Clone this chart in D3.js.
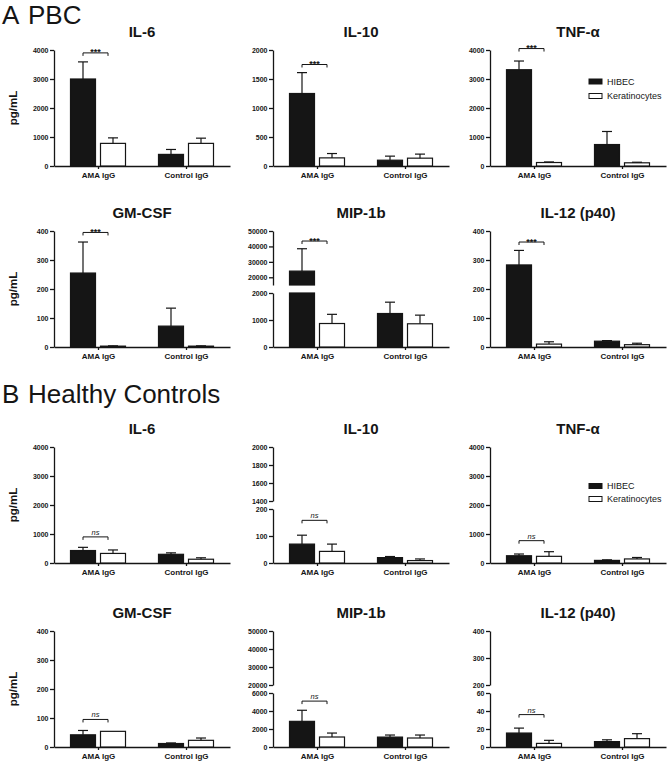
<!DOCTYPE html>
<html><head><meta charset="utf-8">
<script src="https://cdn.jsdelivr.net/npm/d3@7"></script>
<style>
body{margin:0;background:#fff}
svg{display:block;font-family:"Liberation Sans",Arial,sans-serif}
</style>
</head><body>
<svg id="chart" width="668" height="762"></svg>
<script>
// ---------------- DATA ----------------
const categories = ["AMA IgG", "Control IgG"];
const seriesNames = ["HIBEC", "Keratinocytes"];
const cytokines = ["IL-6", "IL-10", "TNF-α", "GM-CSF", "MIP-1b", "IL-12 (p40)"];
const sectionLetters = ["A", "B"];
const sectionNames = ["PBC", "Healthy Controls"];
const yLabel = "pg/mL";

// PBC: per cytokine [AMA IgG, Control IgG]
const pbcHibec    = [[3000, 400], [1250, 100], [3320, 740], [255, 72], [24000, 1240], [283, 20]];
const pbcHibecErr = [[590, 170], [360, 70], [300, 450], [107, 62], [14500, 420], [50, 2]];
const pbcKera     = [[780, 780], [140, 135], [120, 110], [3, 3], [870, 860], [10, 8]];
const pbcKeraErr  = [[190, 180], [75, 70], [20, 20], [1, 1], [340, 320], [8, 5]];
const pbcSig      = ["***", "***", "***", "***", "***", "***"];
const pbcBracket  = [3900, 1750, 4050, 395, 43500, 362];
const pbcLoDomain = [[0, 4000], [0, 2000], [0, 4000], [0, 400], [0, 2000], [0, 400]];
const pbcLoTicks  = [[0, 1000, 2000, 3000, 4000], [0, 500, 1000, 1500, 2000], [0, 1000, 2000, 3000, 4000],
                     [0, 100, 200, 300, 400], [0, 1000, 2000], [0, 100, 200, 300, 400]];
const pbcUpDomain = [null, null, null, null, [15000, 50000], null];
const pbcUpTicks  = [null, null, null, null, [20000, 30000, 40000, 50000], null];

// Healthy controls
const hcHibec    = [[430, 300], [70, 20], [250, 90], [42, 12], [2850, 1100], [15.5, 6]];
const hcHibecErr = [[110, 50], [33, 4], [60, 20], [15, 2], [1230, 230], [5.5, 2]];
const hcKera     = [[330, 130], [43, 9], [230, 140], [54, 23], [1110, 1000], [4, 9.3]];
const hcKeraErr  = [[120, 50], [27, 6], [160, 50], [0, 8], [440, 330], [3.4, 5.5]];
const hcSig      = ["ns", "ns", "ns", "ns", "ns", "ns"];
const hcBracket  = [900, 158, 770, 95, 5100, 36];
const hcLoDomain = [[0, 4000], [0, 200], [0, 4000], [0, 400], [0, 6000], [0, 60]];
const hcLoTicks  = [[0, 1000, 2000, 3000, 4000], [0, 100, 200], [0, 1000, 2000, 3000, 4000],
                    [0, 100, 200, 300, 400], [0, 2000, 4000, 6000], [0, 20, 40, 60]];
const hcUpDomain = [null, [1400, 2000], null, null, [20000, 50000], [200, 400]];
const hcUpTicks  = [null, [1400, 1600, 1800, 2000], null, null, [20000, 30000, 40000, 50000], [200, 300, 400]];

// ---------------- LAYOUT ----------------
const colX = [54, 273, 490];
const sectionRowTop = [[50, 231], [447, 631]];
const sectionHeaderY = [24, 403];
const legendOffsetY = [[31.5, 46], [39, 52]];
const W = 176, H = 116, UP_BOTTOM = 54, LO_TOP = 62;
const INK = "#151515";

const svg = d3.select("#chart");

const sections = [
  {hibec: pbcHibec, hibecErr: pbcHibecErr, kera: pbcKera, keraErr: pbcKeraErr, sig: pbcSig,
   bracket: pbcBracket, lo: pbcLoDomain, loT: pbcLoTicks, up: pbcUpDomain, upT: pbcUpTicks},
  {hibec: hcHibec, hibecErr: hcHibecErr, kera: hcKera, keraErr: hcKeraErr, sig: hcSig,
   bracket: hcBracket, lo: hcLoDomain, loT: hcLoTicks, up: hcUpDomain, upT: hcUpTicks}
];

sections.forEach((sec, si) => {
  const hy = sectionHeaderY[si];
  svg.append("text").attr("x", 2).attr("y", hy).attr("font-size", 26).attr("fill", INK).text(sectionLetters[si]);
  svg.append("text").attr("x", 28).attr("y", hy).attr("font-size", 26).attr("fill", INK).text(sectionNames[si]);

  cytokines.forEach((name, ci) => {
    const row = Math.floor(ci / 3), col = ci % 3;
    const g = svg.append("g").attr("transform", `translate(${colX[col]},${sectionRowTop[si][row]})`);
    drawPanel(g, {
      title: name,
      vals: [sec.hibec[ci], sec.kera[ci]],
      errs: [sec.hibecErr[ci], sec.keraErr[ci]],
      sig: sec.sig[ci], bracket: sec.bracket[ci],
      lo: sec.lo[ci], loT: sec.loT[ci], up: sec.up[ci], upT: sec.upT[ci],
      showYLabel: col === 0,
      legendY: (row === 0 && col === 2) ? legendOffsetY[si] : null
    });
  });
});

function styleAxis(a) {
  a.selectAll("path, line").attr("stroke", INK).attr("stroke-width", 1.3);
  a.selectAll("text").attr("fill", INK);
}

function drawPanel(g, o) {
  const x = d3.scalePoint().domain(categories).range([0, W]).padding(0.5);
  const xs = d3.scaleBand().domain(seriesNames).range([-27.5, 27.5]).paddingInner(1 / 6);
  const broken = !!o.up;
  const yLo = d3.scaleLinear().domain(o.lo).range([H, broken ? LO_TOP : 0]);
  const yUp = broken ? d3.scaleLinear().domain(o.up).range([UP_BOTTOM, 0]) : null;
  const ymap = v => {
    if (!broken || v <= o.lo[1]) return yLo(v);
    if (v >= o.up[0]) return yUp(v);
    return (UP_BOTTOM + LO_TOP) / 2;
  };
  const fmt = d3.format("d");

  // title
  g.append("text").attr("x", W / 2).attr("y", -13).attr("text-anchor", "middle")
    .attr("font-size", 15).attr("font-weight", "bold").attr("fill", INK).text(o.title);

  // y label
  if (o.showYLabel) {
    g.append("text").attr("transform", `translate(-37,${H / 2}) rotate(-90)`)
      .attr("text-anchor", "middle").attr("font-size", 11.5).attr("font-weight", "bold")
      .attr("fill", INK).text(yLabel);
  }

  // y axes
  const aLo = g.append("g").call(d3.axisLeft(yLo).tickValues(o.loT).tickFormat(fmt).tickSize(4).tickSizeOuter(0).tickPadding(1.5))
    .attr("font-size", 7).attr("font-weight", "bold").attr("font-family", null);
  styleAxis(aLo);
  if (broken) {
    const aUp = g.append("g").call(d3.axisLeft(yUp).tickValues(o.upT).tickFormat(fmt).tickSize(4).tickSizeOuter(0).tickPadding(1.5))
      .attr("font-size", 7).attr("font-weight", "bold").attr("font-family", null);
    styleAxis(aUp);
  }

  // x axis
  const aX = g.append("g").attr("transform", `translate(0,${H})`)
    .call(d3.axisBottom(x).tickSize(3).tickSizeOuter(0).tickPadding(3))
    .attr("font-size", 8).attr("font-weight", "bold").attr("font-family", null);
  styleAxis(aX);

  // bars
  seriesNames.forEach((s, k) => {
    categories.forEach((c, i) => {
      const v = o.vals[k][i], e = o.errs[k][i];
      const bx = x(c) + xs(s), bw = xs.bandwidth();
      const fill = k === 0 ? INK : "#fff";
      const segs = [];
      if (broken && v > o.lo[1]) {
        segs.push([yLo(o.lo[1]), H]);
        if (v > o.up[0]) segs.push([yUp(v), UP_BOTTOM]);
      } else {
        segs.push([yLo(v), H]);
      }
      segs.forEach(([y0, y1]) => {
        g.append("rect").attr("x", bx).attr("y", y0).attr("width", bw).attr("height", Math.max(0.5, y1 - y0))
          .attr("fill", fill).attr("stroke", INK).attr("stroke-width", 1.2);
      });
      // error bar (upward)
      if (e > 0) {
        const cx = bx + bw / 2, yt = ymap(v + e), yb = ymap(v);
        g.append("line").attr("x1", cx).attr("x2", cx).attr("y1", yb).attr("y2", yt)
          .attr("stroke", INK).attr("stroke-width", 1.2);
        g.append("line").attr("x1", cx - 5).attr("x2", cx + 5).attr("y1", yt).attr("y2", yt)
          .attr("stroke", INK).attr("stroke-width", 1.2);
      }
    });
  });

  // significance bracket (AMA IgG group)
  const c0 = categories[0];
  const bx0 = x(c0) + xs(seriesNames[0]) + xs.bandwidth() / 2;
  const bx1 = x(c0) + xs(seriesNames[1]) + xs.bandwidth() * 0.3;
  const by = ymap(o.bracket);
  g.append("path").attr("d", `M${bx0},${by + 3}V${by}H${bx1}V${by + 3}`)
    .attr("fill", "none").attr("stroke", INK).attr("stroke-width", 1);
  if (o.sig === "ns") {
    g.append("text").attr("x", (bx0 + bx1) / 2).attr("y", by - 2).attr("text-anchor", "middle")
      .attr("font-size", 7.5).attr("font-style", "italic").attr("fill", INK).text(o.sig);
  } else {
    g.append("text").attr("x", (bx0 + bx1) / 2).attr("y", by + 2.5).attr("text-anchor", "middle")
      .attr("font-size", 9).attr("font-weight", "bold").attr("fill", INK).text(o.sig);
  }

  // legend
  if (o.legendY) {
    seriesNames.forEach((s, k) => {
      const ly = o.legendY[k];
      g.append("rect").attr("x", 99).attr("y", ly - 2.5).attr("width", 13).attr("height", 5)
        .attr("fill", k === 0 ? INK : "#fff").attr("stroke", INK).attr("stroke-width", 1);
      g.append("text").attr("x", 117).attr("y", ly + 3).attr("font-size", 9).attr("fill", INK).text(s);
    });
  }
}
</script>
</body></html>
